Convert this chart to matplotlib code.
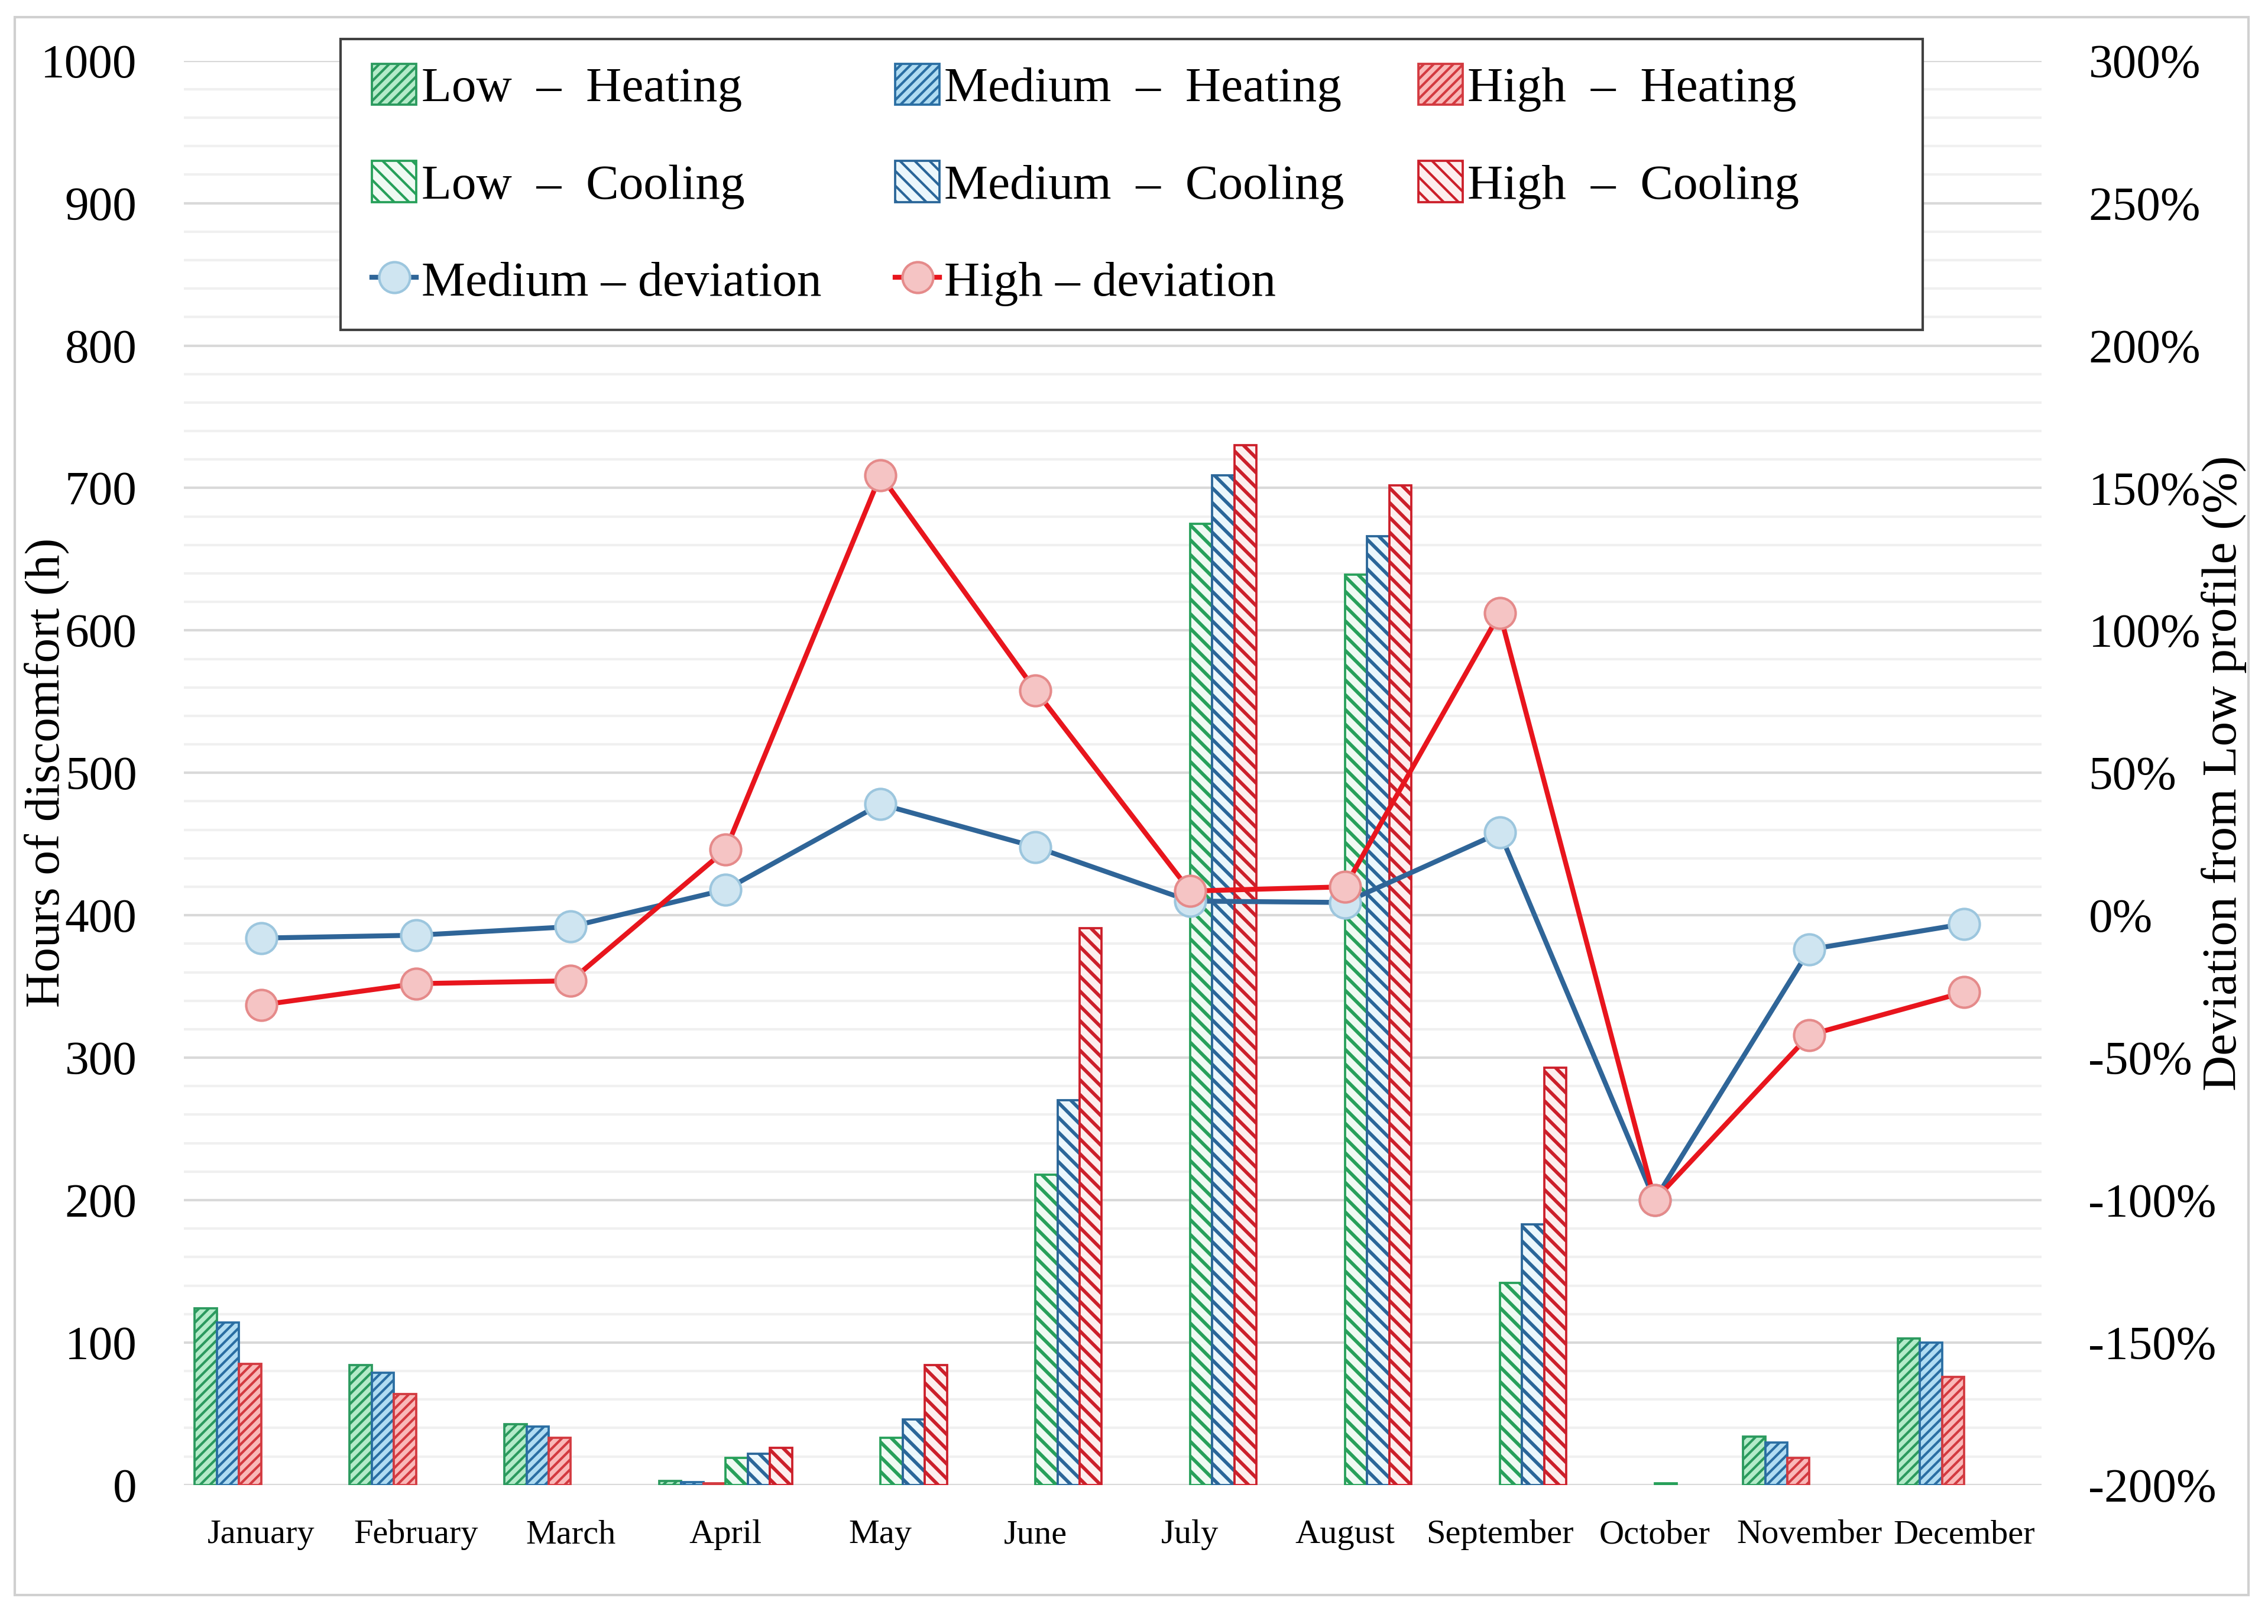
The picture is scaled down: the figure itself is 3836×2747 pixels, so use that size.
import numpy as np
import matplotlib
matplotlib.use("Agg")
import matplotlib.pyplot as plt
from matplotlib.patches import Rectangle
from matplotlib.ticker import MultipleLocator, FuncFormatter

# data
months = ['January', 'February', 'March', 'April', 'May', 'June', 'July',
          'August', 'September', 'October', 'November', 'December']

low_heating = [124, 84, 42.5, 3, 0, 0, 0, 0, 0, 0, 34, 103]
med_heating = [114, 79, 41, 2, 0, 0, 0, 0, 0, 0, 30, 100]
high_heating = [85, 64, 33, 1, 0, 0, 0, 0, 0, 0, 19, 76]

low_cooling = [0, 0, 0, 19, 33, 218, 675, 639, 142, 1, 0, 0]
med_cooling = [0, 0, 0, 22, 46, 270, 709, 666, 183, 0, 0, 0]
high_cooling = [0, 0, 0, 26, 84, 391, 730, 702, 293, 0, 0, 0]

med_dev = [-8, -7, -4, 9, 39, 24, 5, 4.5, 29, -100, -12, -3]
high_dev = [-31.5, -24, -23, 23, 154.5, 79, 8.5, 10, 106, -100, -42, -27]

plt.rcParams['font.family'] = ['Liberation Serif', 'DejaVu Serif']

fig = plt.figure(figsize=(3837 / 300, 2747 / 300), dpi=300)
ax = fig.add_axes([0.081, 0.0856, 0.819, 0.877])
ax2 = ax.twinx()

x = np.arange(len(months))
w = 0.143
# values, face, stripe colour, hatch, hatch width, label
series = [
    (low_heating, '#b4ebc9', '#2b9a5e', '//////', 1.0, 'Low  \u2013  Heating'),
    (med_heating, '#b0dcf2', '#2a6ea3', '//////', 1.0, 'Medium  \u2013  Heating'),
    (high_heating, '#f9b9b9', '#d33a40', '//////', 1.0, 'High  \u2013  Heating'),
    (low_cooling, '#effaf3', '#27a05a', '\\\\\\\\', 1.4, 'Low  \u2013  Cooling'),
    (med_cooling, '#ebf7fc', '#2a6699', '\\\\\\\\', 1.4, 'Medium  \u2013  Cooling'),
    (high_cooling, '#fdeeee', '#cc1f2a', '\\\\\\\\', 1.4, 'High  \u2013  Cooling'),
]
bar_handles = []
for i, (vals, face, col, hatch, hlw, lab) in enumerate(series):
    with plt.rc_context({'hatch.linewidth': hlw}):
        b = ax.bar(x + (i - 2.5) * w, vals, width=w, facecolor=face,
                   edgecolor=col, hatch=hatch, linewidth=0.9, zorder=3)
        proxy = Rectangle((0, 0), 1, 1, facecolor=face, edgecolor=col,
                          hatch=hatch, linewidth=0.9, label=lab)
    for p in list(b.patches) + [proxy]:
        if hasattr(p, 'set_hatch_linewidth'):
            p.set_hatch_linewidth(hlw)
    for p in b.patches:
        if p.get_height() == 0:
            p.set_visible(False)
    bar_handles.append(proxy)

l1, = ax2.plot(x, med_dev, color='#2f6598', lw=2.0, marker='o', ms=12.5,
               mfc='#cfe5f1', mec='#9cc6de', mew=1.0, label='Medium \u2013 deviation',
               zorder=5)
l2, = ax2.plot(x, high_dev, color='#e8151d', lw=2.0, marker='o', ms=12.5,
               mfc='#f5c4c4', mec='#e58a8a', mew=1.0, label='High \u2013 deviation',
               zorder=6)

ax.set_xlim(-0.5, 11.5)
ax.set_ylim(0, 1000)
ax2.set_ylim(-200, 300)
ax.yaxis.set_major_locator(MultipleLocator(100))
ax.yaxis.set_minor_locator(MultipleLocator(20))
ax2.yaxis.set_major_locator(MultipleLocator(50))
ax2.yaxis.set_major_formatter(FuncFormatter(lambda v, p: f'{v:.0f}%'))

ax.grid(which='major', axis='y', color='#d9d9d9', lw=1.0, zorder=0)
ax.grid(which='minor', axis='y', color='#f0f0f0', lw=1.0, zorder=0)
ax.set_axisbelow(True)

ax.set_xticks(x)
ax.set_xticklabels(months, fontsize=14)
for a in (ax, ax2):
    for s in a.spines.values():
        s.set_visible(False)
    a.tick_params(length=0, which='both')
ax.tick_params(axis='y', labelsize=19.5, pad=19)
ax.tick_params(axis='x', pad=14)
ax2.tick_params(axis='y', labelsize=19.5, pad=19)

ax.set_ylabel('Hours of discomfort (h)', fontsize=20)
ax.yaxis.set_label_coords(-0.0616, 0.5)
ax2.set_ylabel('Deviation from Low profile (%)', fontsize=20)
ax2.yaxis.set_label_coords(1.0857, 0.5)

# legend is filled column by column
handles = [bar_handles[0], bar_handles[3], l1,
           bar_handles[1], bar_handles[4], l2,
           bar_handles[2], bar_handles[5]]
labels = [h.get_label() for h in handles]
leg = fig.legend(handles, labels, ncol=3, loc='center left',
                 bbox_to_anchor=(0.164, 0.886),
                 fontsize=20, frameon=False, handlelength=0.9, handleheight=0.9,
                 handletextpad=0.1, labelspacing=1.0, borderpad=0,
                 columnspacing=1.5, borderaxespad=0)
leg.set_zorder(10)

# legend frame
fig.patches.append(Rectangle((0.150, 0.7968), 0.6975, 0.1791,
                             transform=fig.transFigure, facecolor='white',
                             edgecolor='#404040', lw=1.0, zorder=9))
# outer border
fig.patches.append(Rectangle((0.0064, 0.0178), 0.9847, 0.9715,
                             transform=fig.transFigure, fill=False,
                             edgecolor='#d0d0d0', lw=1.0))

fig.savefig('out.png', dpi=300, facecolor='white')
